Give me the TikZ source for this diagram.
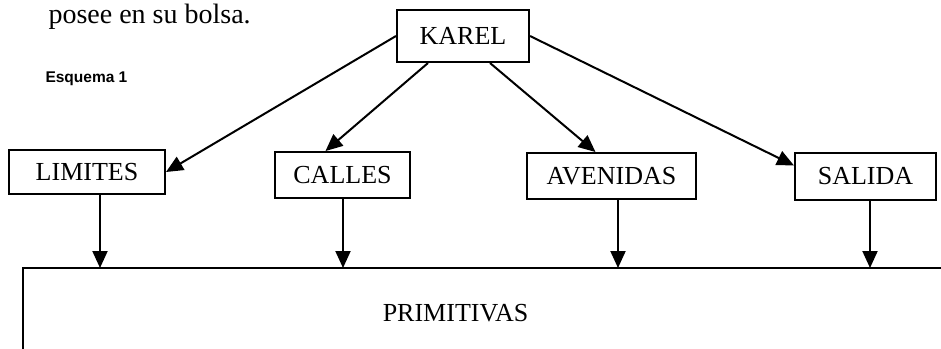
\documentclass[tikz,border=0pt]{standalone}
\usepackage{fontspec}
\setmainfont{Liberation Serif}
\newfontfamily\labelsans{Liberation Sans}
\usetikzlibrary{arrows.meta}

\begin{document}
\begin{tikzpicture}[x=1pt,y=-1pt,
   every node/.style={font=\fontsize{26}{30}\selectfont},
   box/.style={draw,line width=2pt,inner sep=0pt},
   link/.style={line width=2pt,-{Triangle[length=17pt,width=15pt]}}]
\useasboundingbox (0,0) rectangle (941,348);

\node[anchor=base west,font=\fontsize{28}{32}\selectfont] (txt) at (45,23) {posee en su bolsa.};
\node[anchor=base west,font=\labelsans\bfseries\fontsize{15.5}{18}\selectfont] (esq) at (42,82) {Esquema 1};

\node[box,minimum width=132pt,minimum height=52pt] (kar) at (463,36) {KAREL};

\node[box,minimum width=156pt,minimum height=44pt] (lim) at (87,172) {LIMITES};
\node[box,minimum width=135pt,minimum height=46pt] (cal) at (342.5,175) {CALLES};
\node[box,minimum width=169pt,minimum height=46pt] (ave) at (611.5,176) {AVENIDAS};
\node[box,minimum width=141pt,minimum height=47pt] (sal) at (865.5,176.5) {SALIDA};

\draw[link] (kar.west) -- (lim.east);
\draw[link] ([xshift=-35pt]kar.south) -- ([xshift=-17pt]cal.north);
\draw[link] ([xshift=27pt]kar.south) -- ([xshift=-16pt]ave.north);
\draw[link] (kar.east) -- ([yshift=11pt]sal.west);

% open frame of the lower block
\draw[line width=1.6pt] (23,352) -- (23,268) -- (945,268);
\node (prim) at (455.5,313) {PRIMITIVAS};

\coordinate (c1) at (100,268);
\coordinate (c2) at (343,268);
\coordinate (c3) at (618,268);
\coordinate (c4) at (870,268);
\draw[link] (lim.south -| c1) -- (c1);
\draw[link] (cal.south -| c2) -- (c2);
\draw[link] (ave.south -| c3) -- (c3);
\draw[link] (sal.south -| c4) -- (c4);

\end{tikzpicture}
\end{document}
